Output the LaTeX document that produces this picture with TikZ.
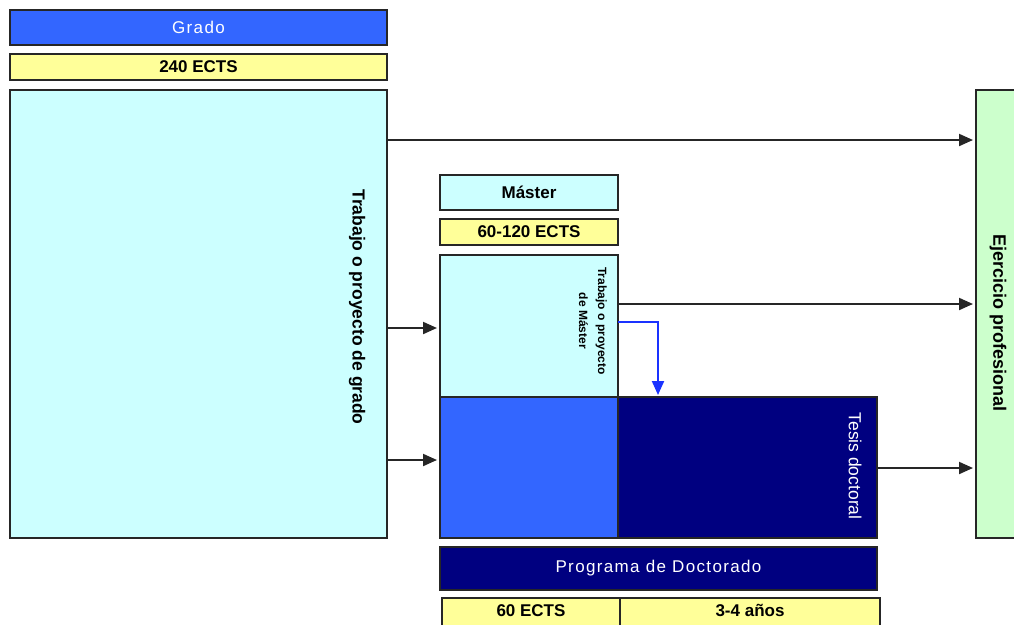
\documentclass[tikz,border=0pt]{standalone}
\usepackage{fontspec}
\setmainfont{Liberation Sans}
\usetikzlibrary{arrows.meta}
\definecolor{gblue}{HTML}{3366FF}
\definecolor{gyel}{HTML}{FFFF99}
\definecolor{gcyan}{HTML}{CCFFFF}
\definecolor{ggreen}{HTML}{CCFFCC}
\definecolor{gnavy}{HTML}{000080}
\definecolor{garr}{HTML}{1A33FF}
\begin{document}
\begin{tikzpicture}[x=1pt,y=-1pt,
  box/.style={draw=black!85, line width=1.4pt, inner sep=0pt, outer sep=0pt},
  big/.style={font=\fontsize{17}{19}\selectfont\addfontfeature{LetterSpace=8}},
  bold/.style={font=\fontsize{17}{19}\selectfont\bfseries},
  label/.style={inner sep=0pt},
  arr/.style={-{Triangle[length=14pt,width=12pt]}, line width=2pt, draw=black!85, shorten >=3pt},
  barr/.style={-{Triangle[length=14pt,width=12pt]}, line width=2pt, draw=garr, shorten >=2pt}]
\useasboundingbox (0,0) rectangle (1014,624);
% boxes
\node[box, fill=gblue, minimum width=377pt, minimum height=35pt, text=white, big] (grado) at (198.5,27.5) {Grado};
\node[box, fill=gyel, minimum width=377pt, minimum height=26pt, bold] (e240) at (198.5,67) {240 ECTS};
\node[box, fill=gcyan, minimum width=377pt, minimum height=448pt] (tfg) at (198.5,314) {};
\node[box, fill=gcyan, minimum width=178pt, minimum height=35pt, bold] (master) at (529,192.5) {Máster};
\node[box, fill=gyel, minimum width=178pt, minimum height=26pt, bold] (e60120) at (529,232) {60-120 ECTS};
\node[box, fill=gcyan, minimum width=178pt, minimum height=142pt] (tfm) at (529,326) {};
\node[box, fill=gblue, minimum width=178pt, minimum height=141pt] (docblue) at (529,467.5) {};
\node[box, fill=gnavy, minimum width=259pt, minimum height=141pt] (tesis) at (747.5,467.5) {};
\node[box, fill=ggreen, minimum width=54pt, minimum height=448pt] (ejer) at (1003,314) {};
\node[box, fill=gnavy, minimum width=437pt, minimum height=43pt, text=white, big] (progdoc) at (658.5,568.5) {Programa de Doctorado};
\node[box, fill=gyel, minimum width=178pt, minimum height=34pt, bold, text depth=9pt] (e60) at (531,615) {60 ECTS};
\node[box, fill=gyel, minimum width=260pt, minimum height=34pt, bold, text depth=9pt] (anos) at (750,615) {3-4 años};
% rotated labels
\node[label, rotate=-90, font=\fontsize{17.5}{19}\selectfont\bfseries] (tfgtxt) at (357,307) {Trabajo o proyecto de grado};
\node[label, rotate=-90, align=center, font=\fontsize{12}{19}\selectfont\bfseries] (tfmtxt) at (593,321) {Trabajo o proyecto\\de Máster};
\node[label, rotate=-90, text=white, font=\fontsize{17.5}{19}\selectfont] (tesistxt) at (855,466) {Tesis doctoral};
\node[label, rotate=-90, font=\fontsize{18}{19}\selectfont\bfseries] (ejertxt) at (998,323) {Ejercicio profesional};
% helper coordinates
\coordinate (ya) at (0,140);
\coordinate (yb) at (0,328);
\coordinate (yc) at (0,460);
\coordinate (yd) at (0,304);
\coordinate (ye) at (0,322);
\coordinate (yf) at (0,468);
\coordinate (xb) at (658,0);
% connectors
\draw[arr] (tfg.east |- ya) -- (ejer.west |- ya);
\draw[arr] (tfg.east |- yb) -- (tfm.west |- yb);
\draw[arr] (tfg.east |- yc) -- (docblue.west |- yc);
\draw[arr] (tfm.east |- yd) -- (ejer.west |- yd);
\draw[barr] (tfm.east |- ye) -| (tesis.north -| xb);
\draw[arr] (tesis.east |- yf) -- (ejer.west |- yf);
\end{tikzpicture}
\end{document}
